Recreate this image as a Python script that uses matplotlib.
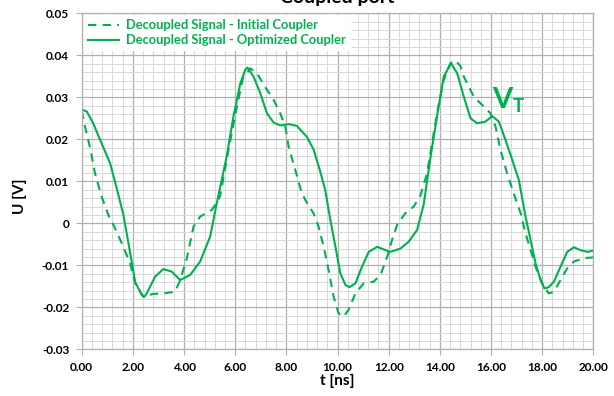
import numpy as np
import matplotlib
matplotlib.use("Agg")
import matplotlib.pyplot as plt
from matplotlib.ticker import MultipleLocator, FuncFormatter

plt.rcParams['font.family'] = ['Lato', 'DejaVu Sans']

# tempo [ns] e tensione [V]
t_init = [0.0, 0.13, 0.33, 0.52, 0.78, 1.04, 1.24, 1.57, 1.89, 2.09, 2.41, 2.8, 3.19, 3.65,
          3.85, 4.11, 4.37, 4.63, 5.09, 5.28, 5.41, 5.74, 6.0, 6.3, 6.59, 6.85, 7.17, 7.5,
          7.76, 7.96, 8.09, 8.35, 8.6, 8.81, 9.06, 9.26, 9.46, 9.65, 9.85, 10.04, 10.24,
          10.43, 10.7, 11.02, 11.41, 11.68, 11.94, 12.13, 12.33, 12.65, 12.98, 13.24, 13.5,
          13.89, 14.15, 14.41, 14.6, 14.8, 14.94, 15.33, 15.72, 15.98, 16.18, 16.37, 16.63,
          16.89, 17.16, 17.35, 17.55, 17.74, 18.0, 18.26, 18.46, 18.72, 18.98, 19.24, 19.63, 20.0]
u_init = [0.0268, 0.0230, 0.0179, 0.0119, 0.0063, 0.0020, -0.0004, -0.0048, -0.0095, -0.0143,
          -0.0175, -0.0168, -0.0167, -0.0163, -0.0135, -0.0083, -0.0008, 0.0016, 0.0032, 0.0050,
          0.0065, 0.0175, 0.0258, 0.0345, 0.0369, 0.0357, 0.0325, 0.0294, 0.0262, 0.0230,
          0.0182, 0.0127, 0.0072, 0.0048, 0.0024, -0.0008, -0.0056, -0.0111, -0.0175, -0.0214,
          -0.0222, -0.0206, -0.0167, -0.0143, -0.0139, -0.0123, -0.0080, -0.0040, -0.0004,
          0.0024, 0.0040, 0.0066, 0.0119, 0.0262, 0.0341, 0.0381, 0.0388, 0.0375, 0.0349,
          0.0301, 0.0278, 0.0262, 0.0230, 0.0175, 0.0119, 0.0071, 0.0024, -0.0024, -0.0064,
          -0.0103, -0.0143, -0.0167, -0.0163, -0.0135, -0.0107, -0.0091, -0.0083, -0.0081]

t_opt = [0.0, 0.2, 0.45, 0.78, 1.11, 1.37, 1.63, 1.85, 2.09, 2.35, 2.45, 2.54, 2.87, 3.19, 3.52,
         3.85, 4.24, 4.63, 5.02, 5.28, 5.67, 5.93, 6.2, 6.39, 6.48, 6.72, 6.98, 7.24, 7.5, 7.76,
         8.09, 8.41, 8.8, 9.07, 9.33, 9.52, 9.72, 9.92, 10.11, 10.31, 10.47, 10.7, 10.96, 11.22,
         11.55, 11.8, 12.07, 12.46, 12.78, 13.11, 13.37, 13.63, 13.89, 14.15, 14.44, 14.68,
         14.94, 15.2, 15.46, 15.78, 16.05, 16.31, 16.57, 16.83, 17.09, 17.35, 17.55, 17.74,
         17.94, 18.09, 18.26, 18.46, 18.72, 18.98, 19.24, 19.5, 19.77, 20.0]
u_opt = [0.0271, 0.0266, 0.0238, 0.0190, 0.0143, 0.0083, 0.0020, -0.0055, -0.0140, -0.0171,
         -0.0175, -0.0167, -0.0127, -0.0109, -0.0115, -0.0135, -0.0123, -0.0091, -0.0032, 0.0048,
         0.0160, 0.0254, 0.0333, 0.0365, 0.0371, 0.0349, 0.0310, 0.0262, 0.0240, 0.0233, 0.0236,
         0.0232, 0.0206, 0.0175, 0.0122, 0.0079, 0.0008, -0.0056, -0.0119, -0.0147, -0.0152,
         -0.0143, -0.0103, -0.0068, -0.0056, -0.0062, -0.0068, -0.0060, -0.0044, -0.0016, 0.0045,
         0.0155, 0.0254, 0.0349, 0.0381, 0.0357, 0.0301, 0.0250, 0.0238, 0.0242, 0.0255, 0.0242,
         0.0198, 0.0151, 0.0103, 0.0016, -0.0040, -0.0095, -0.0135, -0.0155, -0.0152, -0.0139,
         -0.0103, -0.0068, -0.0057, -0.0064, -0.0068, -0.0065]

green = '#00B050'

fig = plt.figure(figsize=(6.14, 3.96), dpi=100)
ax = fig.add_axes([0.1331, 0.1179, 0.8332, 0.8485])

ax.plot(t_init, u_init, color=green, lw=1.5, linestyle=(0, (4, 3)),
        label='Decoupled Signal - Initial Coupler')
ax.plot(t_opt, u_opt, color=green, lw=1.5, label='Decoupled Signal - Optimized Coupler')

ax.set_xlim(0, 20)
ax.set_ylim(-0.03, 0.05)
ax.xaxis.set_major_locator(MultipleLocator(2))
ax.xaxis.set_minor_locator(MultipleLocator(0.4))
ax.yaxis.set_major_locator(MultipleLocator(0.01))
ax.yaxis.set_minor_locator(MultipleLocator(0.002))
ax.xaxis.set_major_formatter(FuncFormatter(lambda v, p: '%.2f' % v))
ax.yaxis.set_major_formatter(FuncFormatter(lambda v, p: '0' if abs(v) < 1e-9 else '%.2f' % v))

ax.grid(True, which='major', color='#b0b0b0', lw=0.9)
ax.grid(True, which='minor', color='#d9d9d9', lw=0.7)
ax.set_axisbelow(True)
for s in ax.spines.values():
    s.set_color('#b0b0b0')
    s.set_linewidth(0.9)
ax.tick_params(which='major', length=4, color='#b0b0b0', labelsize=8.5, pad=5)
ax.tick_params(which='minor', length=0)
for lab in ax.get_xticklabels() + ax.get_yticklabels():
    lab.set_fontweight('bold')

ax.set_xlabel('t [ns]', fontsize=11, fontweight='bold', labelpad=1)
fig.text(20 / 614, 1 - 196 / 396, 'U [V]', rotation=90, fontsize=11, fontweight='bold',
         ha='center', va='center')
fig.text(0.5497, 1 - 3 / 396, 'Coupled port', fontsize=14, fontweight='bold',
         ha='center', va='baseline')

leg = ax.legend(loc='upper left', frameon=True, fancybox=False,
                handlelength=2.4, borderaxespad=0.15, borderpad=0.3, labelspacing=0.25,
                handletextpad=0.6, prop={'weight': 'bold', 'size': 9.3})
leg.get_frame().set_facecolor('white')
leg.get_frame().set_edgecolor('white')
leg.get_frame().set_alpha(1)
for txt in leg.get_texts():
    txt.set_color(green)

# etichetta V_T
ax.text(16.03, 0.02745, 'V', color=green, fontsize=21, fontweight='bold', va='baseline')
ax.text(16.84, 0.02657, 'T', color=green, fontsize=13.5, fontweight='bold', va='baseline')

fig.savefig('out.png', dpi=100)
